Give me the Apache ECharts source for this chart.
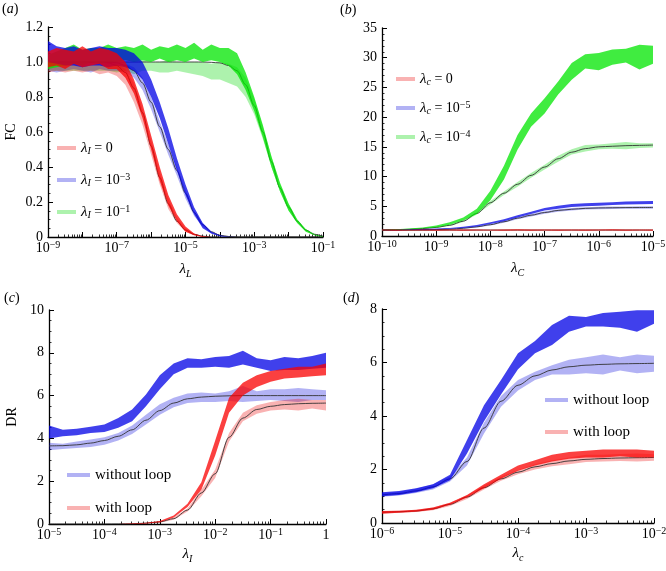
<!DOCTYPE html>
<html>
<head>
<meta charset="utf-8">
<script src="https://cdn.jsdelivr.net/npm/echarts@6.0.0/dist/echarts.min.js"></script>
<style>
    html, body { margin: 0; padding: 0; background: #fff; }
    #main { width: 666px; height: 571px; }
</style>
</head>
<body>
<div id="main"></div>
<script>
// ---- data (x stored as log10 exponents) ----

// (a) FC vs lambda_L
const lgA = [-9, -8.75, -8.5, -8.25, -8, -7.75, -7.5, -7.25, -7, -6.75, -6.5, -6.25, -6, -5.75, -5.5, -5.25, -5,
    -4.75, -4.5, -4.25, -4, -3.75, -3.5, -3.25, -3, -2.75, -2.5, -2.25, -2, -1.75, -1.5, -1.25, -1]
const aRedLo = [0.97, 0.98, 0.96, 0.99, 0.97, 0.98, 0.99, 0.96, 0.96, 0.91, 0.82, 0.68, 0.5, 0.32, 0.18, 0.09, 0.03, 0.01, 0,
    0, 0, 0, 0, 0, 0, 0, 0, 0, 0, 0, 0, 0, 0]
const aRedHi = [1.06, 1.08, 1.07, 1.06, 1.09, 1.06, 1.08, 1.07, 1.05, 1.0, 0.9, 0.76, 0.58, 0.4, 0.24, 0.13, 0.06, 0.02, 0.005,
    0, 0, 0, 0, 0, 0, 0, 0, 0, 0, 0, 0, 0, 0]
const aRedLightLo = [0.94, 0.95, 0.94, 0.95, 0.94, 0.95, 0.93, 0.94, 0.92, 0.87, 0.77, 0.64, 0.47, 0.3, 0.16, 0.08, 0.03, 0.01, 0,
    0, 0, 0, 0, 0, 0, 0, 0, 0, 0, 0, 0, 0, 0]
const aRedLightHi = [1.0, 1.0, 1.01, 1.0, 1.0, 1.01, 1.0, 1.0, 0.99, 0.96, 0.88, 0.73, 0.55, 0.37, 0.22, 0.11, 0.05, 0.02, 0.005,
    0, 0, 0, 0, 0, 0, 0, 0, 0, 0, 0, 0, 0, 0]
const aRedFit = [1, 1, 1, 1, 1, 1, 1, 0.995, 0.98, 0.94, 0.85, 0.71, 0.52, 0.34, 0.19, 0.09, 0.04, 0.015, 0.005,
    0, 0, 0, 0, 0, 0, 0, 0, 0, 0, 0, 0, 0, 0]
const aBlueLo = [1.0, 0.99, 0.98, 0.98, 0.97, 0.98, 0.98, 0.97, 0.98, 0.97, 0.95, 0.9, 0.8, 0.68, 0.53, 0.38, 0.24, 0.13, 0.05,
    0.02, 0.005, 0, 0, 0, 0, 0, 0, 0, 0, 0, 0, 0, 0]
const aBlueHi = [1.12, 1.09, 1.08, 1.09, 1.07, 1.08, 1.09, 1.08, 1.08, 1.07, 1.05, 1.0, 0.9, 0.77, 0.62, 0.45, 0.3, 0.17, 0.08,
    0.03, 0.01, 0.002, 0, 0, 0, 0, 0, 0, 0, 0, 0, 0, 0]
const aBlueLightLo = [0.95, 0.94, 0.95, 0.96, 0.95, 0.94, 0.96, 0.95, 0.95, 0.94, 0.91, 0.84, 0.73, 0.6, 0.47, 0.35, 0.22, 0.12, 0.06,
    0.02, 0.005, 0, 0, 0, 0, 0, 0, 0, 0, 0, 0, 0, 0]
const aBlueLightHi = [1.0, 1.01, 1.0, 1.0, 1.01, 1.0, 1.0, 1.01, 1.0, 0.99, 0.97, 0.91, 0.8, 0.66, 0.53, 0.4, 0.27, 0.15, 0.08,
    0.035, 0.012, 0.004, 0, 0, 0, 0, 0, 0, 0, 0, 0, 0, 0]
const aBlueFit = [1, 1, 1, 1, 1, 1, 1, 1, 0.995, 0.98, 0.95, 0.88, 0.77, 0.63, 0.5, 0.38, 0.25, 0.14, 0.07,
    0.03, 0.01, 0.003, 0, 0, 0, 0, 0, 0, 0, 0, 0, 0, 0]
const aGreenLo = [0.96, 0.97, 0.98, 0.99, 0.98, 1.0, 0.99, 1.0, 1.0, 1.01, 1.0, 1.01, 1.0, 1.02, 1.0, 1.01, 1.0, 1.02, 1.0,
    1.01, 1.0, 0.98, 0.93, 0.84, 0.72, 0.57, 0.4, 0.26, 0.15, 0.08, 0.03, 0.01, 0]
const aGreenHi = [1.04, 1.06, 1.08, 1.1, 1.07, 1.08, 1.08, 1.1, 1.08, 1.09, 1.08, 1.1, 1.07, 1.09, 1.08, 1.1, 1.08, 1.11, 1.07,
    1.1, 1.08, 1.08, 1.05, 0.94, 0.8, 0.64, 0.46, 0.31, 0.19, 0.1, 0.045, 0.015, 0.003]
const aGreenLightLo = [0.95, 0.95, 0.95, 0.95, 0.95, 0.95, 0.95, 0.95, 0.94, 0.95, 0.93, 0.95, 0.95, 0.94, 0.94, 0.95, 0.94, 0.93, 0.92,
    0.9, 0.9, 0.88, 0.86, 0.8, 0.7, 0.56, 0.4, 0.26, 0.15, 0.08, 0.035, 0.01, 0]
const aGreenLightHi = [1.0, 1.0, 1.0, 1.01, 1.0, 1.0, 1.0, 1.01, 1.0, 1.0, 1.0, 1.01, 1.0, 1.0, 1.01, 1.0, 1.0, 1.0, 1.0,
    0.99, 1.0, 0.99, 0.97, 0.91, 0.79, 0.63, 0.46, 0.3, 0.19, 0.1, 0.045, 0.02, 0.006]
const aGreenFit = [1, 1, 1, 1, 1, 1, 1, 1, 1, 1, 1, 1, 1, 1, 1, 1, 1, 1, 1,
    0.998, 0.995, 0.98, 0.95, 0.87, 0.75, 0.6, 0.43, 0.28, 0.17, 0.09, 0.04, 0.015, 0.005]

// (b) FC vs lambda_C
const lgB = [-10, -9.75, -9.5, -9.25, -9, -8.75, -8.5, -8.25, -8, -7.75, -7.5, -7.25, -7, -6.75, -6.5, -6.25, -6,
    -5.75, -5.5, -5.25, -5]
const bRedLo = [0.92, 0.9, 0.93, 0.91, 0.9, 0.92, 0.9, 0.91, 0.93, 0.9, 0.92, 0.9, 0.91, 0.9, 0.92, 0.9, 0.91, 0.93, 0.9, 0.92, 0.9]
const bRedHi = [1.08, 1.1, 1.07, 1.1, 1.09, 1.08, 1.1, 1.09, 1.07, 1.1, 1.12, 1.08, 1.1, 1.09, 1.11, 1.08, 1.1, 1.12, 1.09, 1.1, 1.11]
const bRedLightLo = [0.96, 0.95, 0.96, 0.96, 0.95, 0.96, 0.96, 0.95, 0.96, 0.96, 0.95, 0.96, 0.96, 0.95, 0.96, 0.96, 0.95, 0.96, 0.96, 0.95, 0.96]
const bRedLightHi = [1.04, 1.05, 1.04, 1.04, 1.05, 1.04, 1.04, 1.05, 1.04, 1.04, 1.05, 1.04, 1.04, 1.05, 1.04, 1.04, 1.05, 1.04, 1.04, 1.05, 1.04]
const bRedFit = [1, 1, 1, 1, 1, 1, 1, 1, 1, 1, 1, 1, 1, 1, 1, 1, 1, 1, 1, 1, 1]
const bBlueLo = [0.95, 0.97, 1.0, 1.05, 1.1, 1.2, 1.35, 1.6, 2.0, 2.5, 3.1, 3.7, 4.3, 4.6, 4.9, 5.0, 5.1, 5.2, 5.3, 5.35, 5.4]
const bBlueHi = [1.05, 1.07, 1.1, 1.17, 1.25, 1.35, 1.55, 1.85, 2.3, 2.8, 3.5, 4.1, 4.7, 5.1, 5.4, 5.5, 5.6, 5.7, 5.8, 5.85, 5.9]
const bBlueLightLo = [0.93, 0.94, 0.96, 0.98, 1.0, 1.06, 1.2, 1.44, 1.78, 2.25, 2.82, 3.3, 3.75, 4.1, 4.3, 4.45, 4.52, 4.55, 4.58, 4.6, 4.6]
const bBlueLightHi = [1.07, 1.08, 1.1, 1.12, 1.16, 1.24, 1.4, 1.66, 2.02, 2.55, 3.18, 3.7, 4.15, 4.5, 4.7, 4.85, 4.92, 4.95, 4.98, 5.0, 5.0]
const bBlueFit = [1.0, 1.01, 1.03, 1.05, 1.08, 1.15, 1.3, 1.55, 1.9, 2.4, 3.0, 3.5, 3.95, 4.3, 4.5, 4.65, 4.72, 4.75, 4.78, 4.79, 4.8]
const bGreenLo = [0.95, 1.0, 1.1, 1.25, 1.45, 1.9, 2.6, 3.7, 6.0, 9.5, 14.5, 18.4, 20.6, 23.8, 26.3, 28.2, 27.9, 28.8, 29.2, 28.0, 29.0]
const bGreenHi = [1.05, 1.12, 1.25, 1.45, 1.75, 2.3, 3.1, 4.6, 7.6, 11.8, 17.0, 20.6, 23.2, 26.0, 29.1, 30.6, 30.8, 31.4, 31.5, 32.2, 32.0]
const bGreenLightLo = [0.95, 1.0, 1.07, 1.18, 1.37, 1.7, 2.35, 3.6, 5.3, 6.9, 8.3, 9.8, 11.2, 12.5, 13.7, 14.2, 14.6, 14.7, 14.6, 14.8, 14.9]
const bGreenLightHi = [1.05, 1.1, 1.17, 1.32, 1.55, 1.92, 2.65, 4.0, 5.9, 7.5, 9.1, 10.6, 12.0, 13.5, 14.6, 15.3, 15.4, 15.6, 15.8, 15.6, 15.6]
const bGreenFit = [1.0, 1.05, 1.12, 1.25, 1.45, 1.8, 2.5, 3.8, 5.6, 7.2, 8.7, 10.2, 11.6, 13.0, 14.1, 14.7, 15.0, 15.1, 15.2, 15.25, 15.3]

// (c) DR vs lambda_I
const lgC = [-5, -4.75, -4.5, -4.25, -4, -3.75, -3.5, -3.25, -3, -2.75, -2.5, -2.25, -2, -1.75, -1.5, -1.25, -1,
    -0.75, -0.5, -0.25, 0]
const cBlueLo = [4.0, 4.1, 4.15, 4.25, 4.3, 4.5, 4.8, 5.5, 6.3, 7.0, 7.3, 7.3, 7.35, 7.3, 7.45, 7.3, 7.15, 7.2, 7.2, 7.25, 7.3]
const cBlueHi = [4.6, 4.4, 4.45, 4.55, 4.65, 4.95, 5.35, 6.05, 6.95, 7.5, 7.75, 7.7, 7.8, 7.85, 8.1, 7.75, 7.65, 7.8, 7.75, 7.85, 8.0]
const cBlueLightLo = [3.45, 3.5, 3.55, 3.6, 3.7, 3.9, 4.2, 4.65, 5.1, 5.45, 5.65, 5.7, 5.7, 5.75, 5.7, 5.75, 5.8, 5.75, 5.7, 5.8, 5.8]
const cBlueLightHi = [3.8, 3.75, 3.85, 3.95, 4.05, 4.25, 4.6, 5.1, 5.6, 5.9, 6.1, 6.15, 6.1, 6.2, 6.45, 6.2, 6.3, 6.3, 6.35, 6.3, 6.25]
const cBlueFit = [3.65, 3.66, 3.7, 3.78, 3.9, 4.1, 4.4, 4.85, 5.3, 5.65, 5.85, 5.93, 5.97, 5.99, 6.0, 6.0, 6.0, 6.0, 6.0, 6.0, 6.0]
const cRedLo = [0, 0, 0, 0, 0, 0, 0, 0.02, 0.08, 0.3, 0.8, 1.6, 3.2, 5.2, 6.0, 6.4, 6.65, 6.8, 6.85, 6.9, 6.95]
const cRedHi = [0, 0, 0, 0, 0, 0, 0.02, 0.06, 0.14, 0.4, 0.95, 1.95, 3.9, 5.9, 6.6, 6.95, 7.15, 7.25, 7.35, 7.35, 7.5]
const cRedLightLo = [0, 0, 0, 0, 0, 0, 0, 0.02, 0.06, 0.2, 0.58, 1.3, 2.15, 3.85, 4.8, 5.15, 5.3, 5.35, 5.3, 5.4, 5.3]
const cRedLightHi = [0, 0, 0, 0, 0, 0, 0.01, 0.05, 0.12, 0.3, 0.72, 1.6, 2.55, 4.25, 5.2, 5.55, 5.7, 5.8, 5.85, 5.8, 5.8]
const cRedFit = [0, 0, 0, 0, 0, 0.005, 0.01, 0.04, 0.1, 0.25, 0.65, 1.45, 2.35, 4.05, 4.95, 5.35, 5.5, 5.58, 5.62, 5.64, 5.65]

// (d) DR vs lambda_c
const lgD = [-6, -5.75, -5.5, -5.25, -5, -4.75, -4.5, -4.25, -4, -3.75, -3.5, -3.25, -3, -2.75, -2.5, -2.25, -2]
const dBlueLo = [1.0, 1.05, 1.15, 1.3, 1.6, 2.6, 3.8, 4.8, 5.75, 6.35, 6.65, 7.15, 7.35, 7.35, 7.3, 7.15, 7.45]
const dBlueHi = [1.15, 1.2, 1.3, 1.45, 1.8, 3.1, 4.4, 5.35, 6.35, 6.8, 7.4, 7.75, 7.7, 7.85, 7.9, 7.95, 7.95]
const dBlueLightLo = [0.98, 1.03, 1.12, 1.25, 1.55, 2.15, 3.35, 4.35, 4.95, 5.35, 5.55, 5.55, 5.6, 5.55, 5.7, 5.6, 5.65]
const dBlueLightHi = [1.12, 1.17, 1.28, 1.45, 1.75, 2.45, 3.75, 4.75, 5.35, 5.65, 5.9, 6.1, 6.2, 6.3, 6.2, 6.3, 6.25]
const dBlueFit = [1.05, 1.1, 1.2, 1.35, 1.65, 2.3, 3.55, 4.55, 5.15, 5.5, 5.72, 5.84, 5.9, 5.93, 5.95, 5.96, 5.97]
const dRedLo = [0.35, 0.38, 0.42, 0.5, 0.68, 0.95, 1.3, 1.65, 1.95, 2.15, 2.3, 2.4, 2.45, 2.45, 2.5, 2.45, 2.45]
const dRedHi = [0.45, 0.46, 0.5, 0.58, 0.76, 1.05, 1.45, 1.8, 2.15, 2.35, 2.55, 2.65, 2.7, 2.75, 2.75, 2.75, 2.7]
const dRedLightLo = [0.36, 0.38, 0.41, 0.48, 0.64, 0.9, 1.25, 1.58, 1.82, 2.0, 2.12, 2.2, 2.28, 2.3, 2.32, 2.3, 2.33]
const dRedLightHi = [0.44, 0.46, 0.49, 0.58, 0.76, 1.04, 1.4, 1.73, 1.98, 2.2, 2.35, 2.45, 2.55, 2.55, 2.58, 2.6, 2.57]
const dRedFit = [0.4, 0.42, 0.45, 0.53, 0.7, 0.97, 1.32, 1.65, 1.9, 2.1, 2.22, 2.32, 2.38, 2.41, 2.43, 2.44, 2.45]

// legend texts (rich markup: n = plain, i = italic, s = subscript, u = superscript)
const legA = ['{i|λ}{s|I}{n| = 0}', '{i|λ}{s|I}{n| = 10}{u|−3}', '{i|λ}{s|I}{n| = 10}{u|−1}']
const legB = ['{i|λ}{s|c}{n| = 0}', '{i|λ}{s|c}{n| = 10}{u|−5}', '{i|λ}{s|c}{n| = 10}{u|−4}']
const legLoop = ['{m|without loop}', '{m|with loop}']

// ---- styling ----
const SERIF = 'Liberation Serif'
const RED = 'rgba(250,0,0,0.75)', RED_L = 'rgba(235,0,0,0.3)'
const BLUE = 'rgba(0,0,230,0.75)', BLUE_L = 'rgba(0,0,220,0.3)'
const GREEN = 'rgba(0,230,0,0.75)', GREEN_L = 'rgba(0,215,0,0.32)'

// every piece of text goes through a token so the serif face is always applied
const rich = {
    n: { fontFamily: SERIF, fontSize: 14, color: '#000' },
    m: { fontFamily: SERIF, fontSize: 15, color: '#000' },
    i: { fontFamily: SERIF, fontStyle: 'italic', fontSize: 15, color: '#000' },
    s: { fontFamily: SERIF, fontStyle: 'italic', fontSize: 10, lineHeight: 10, verticalAlign: 'bottom', color: '#000' },
    u: { fontFamily: SERIF, fontSize: 10, lineHeight: 10, verticalAlign: 'top', color: '#000' },
}

const toX = (lg) => lg.map(e => Math.pow(10, e))
const xA = toX(lgA), xB = toX(lgB), xC = toX(lgC), xD = toX(lgD)

function band(name, gi, xs, lo, hi, color, z) {
    return {
        type: 'custom', name: name, xAxisIndex: gi, yAxisIndex: gi, z: z, clip: true, silent: true,
        itemStyle: { color: color },
        data: [[xs[0], hi[0]]],
        renderItem: function (params, api) {
            let top = xs.map((x, i) => api.coord([x, hi[i]]))
            let bot = xs.map((x, i) => api.coord([x, lo[i]])).reverse()
            return { type: 'polygon', shape: { points: top.concat(bot) }, style: { fill: color } }
        },
    }
}

// thin black fits sit between the light and the dark bands
function fitLine(gi, xs, ys) {
    return {
        type: 'line', xAxisIndex: gi, yAxisIndex: gi, z: 3, silent: true,
        data: xs.map((x, i) => [x, ys[i]]),
        smooth: 0.3, smoothMonotone: 'x', symbol: 'none',
        lineStyle: { color: '#333', width: 0.9 },
    }
}

const powLabel = (skipEven) => (v) => {
    let n = Math.round(Math.log10(v))
    if (skipEven && n % 2 === 0) return ''
    return n === 0 ? '{n|1}' : '{n|10}{u|−' + (-n) + '}'
}

function xLog(gi, min, max, name, nameGap, skipEven) {
    return {
        type: 'log', logBase: 10, gridIndex: gi, min: min, max: max, interval: 1,
        name: name, nameLocation: 'middle', nameGap: nameGap,
        nameTextStyle: { fontFamily: SERIF, fontSize: 14, lineHeight: 20, color: '#000', rich: rich },
        axisLine: { lineStyle: { color: '#000', width: 1.3 } },
        axisTick: { inside: true, length: 5, lineStyle: { color: '#000', width: 1 } },
        minorTick: { show: true, splitNumber: 9, length: 2.5, lineStyle: { color: '#000', width: 0.8 } },
        splitLine: { show: false },
        axisLabel: {
            fontFamily: SERIF, fontSize: 14, lineHeight: 16, color: '#000', margin: 3,
            formatter: powLabel(skipEven), rich: rich,
        },
    }
}

function yLin(gi, max, interval, minorSplit, name, digits) {
    return {
        type: 'value', gridIndex: gi, min: 0, max: max, interval: interval,
        name: name, nameLocation: 'middle', nameGap: 30, nameRotate: 90,
        nameTextStyle: { fontFamily: SERIF, fontSize: 14, color: '#000', rich: rich },
        axisLine: { show: true, lineStyle: { color: '#000', width: 1.3 } },
        axisTick: { show: true, inside: true, length: 5, lineStyle: { color: '#000', width: 1 } },
        minorTick: { show: true, splitNumber: minorSplit, length: 2.5, lineStyle: { color: '#000', width: 0.8 } },
        splitLine: { show: false },
        axisLabel: {
            fontFamily: SERIF, fontSize: 14, color: '#000', margin: 5, rich: rich,
            formatter: (v) => '{n|' + (v === 0 ? '0' : v.toFixed(digits)) + '}',
        },
    }
}

function legend(names, left, top, gap, w) {
    return {
        data: names, left: left, top: top, orient: 'vertical', icon: 'rect',
        itemWidth: w, itemHeight: 4, itemGap: gap, selectedMode: false,
        textStyle: { fontFamily: SERIF, fontSize: 15, lineHeight: 16, color: '#000', rich: rich },
    }
}

const series = [
    // (a)
    band(legA[2], 0, xA, aGreenLightLo, aGreenLightHi, GREEN_L, 2),
    band(legA[1], 0, xA, aBlueLightLo, aBlueLightHi, BLUE_L, 2),
    band(legA[0], 0, xA, aRedLightLo, aRedLightHi, RED_L, 2),
    fitLine(0, xA, aGreenFit), fitLine(0, xA, aBlueFit), fitLine(0, xA, aRedFit),
    band('a-green', 0, xA, aGreenLo, aGreenHi, GREEN, 4),
    band('a-blue', 0, xA, aBlueLo, aBlueHi, BLUE, 4),
    band('a-red', 0, xA, aRedLo, aRedHi, RED, 4),
    // (b)
    band(legB[2], 1, xB, bGreenLightLo, bGreenLightHi, GREEN_L, 2),
    band(legB[1], 1, xB, bBlueLightLo, bBlueLightHi, BLUE_L, 2),
    band(legB[0], 1, xB, bRedLightLo, bRedLightHi, RED_L, 2),
    fitLine(1, xB, bGreenFit), fitLine(1, xB, bBlueFit), fitLine(1, xB, bRedFit),
    band('b-green', 1, xB, bGreenLo, bGreenHi, GREEN, 4),
    band('b-blue', 1, xB, bBlueLo, bBlueHi, BLUE, 4),
    band('b-red', 1, xB, bRedLo, bRedHi, RED, 4),
    // (c)
    band(legLoop[0], 2, xC, cBlueLightLo, cBlueLightHi, BLUE_L, 2),
    band(legLoop[1], 2, xC, cRedLightLo, cRedLightHi, RED_L, 2),
    fitLine(2, xC, cBlueFit), fitLine(2, xC, cRedFit),
    band('c-blue', 2, xC, cBlueLo, cBlueHi, BLUE, 4),
    band('c-red', 2, xC, cRedLo, cRedHi, RED, 4),
    // (d)
    band(legLoop[0], 3, xD, dBlueLightLo, dBlueLightHi, BLUE_L, 2),
    band(legLoop[1], 3, xD, dRedLightLo, dRedLightHi, RED_L, 2),
    fitLine(3, xD, dBlueFit), fitLine(3, xD, dRedFit),
    band('d-blue', 3, xD, dBlueLo, dBlueHi, BLUE, 4),
    band('d-red', 3, xD, dRedLo, dRedHi, RED, 4),
]

function panelLabel(letter, left, top) {
    return {
        type: 'text', left: left, top: top,
        style: {
            text: '({i|' + letter + '})', fontFamily: SERIF, fontSize: 14, fill: '#000',
            rich: { i: { fontFamily: SERIF, fontStyle: 'italic', fontSize: 14 } },
        },
    }
}

const chart = echarts.init(document.getElementById('main'))
chart.setOption({
    animation: false,
    backgroundColor: '#fff',
    textStyle: { fontFamily: SERIF },
    grid: [
        { left: 48, top: 27, width: 275, height: 210, outerBoundsMode: 'none' },
        { left: 382, top: 28, width: 271, height: 208, outerBoundsMode: 'none' },
        { left: 49, top: 310, width: 277, height: 214, outerBoundsMode: 'none' },
        { left: 382, top: 309, width: 272, height: 214, outerBoundsMode: 'none' },
    ],
    xAxis: [
        xLog(0, 1e-9, 1e-1, '{i|λ}{s|L}', 22, true),
        xLog(1, 1e-10, 1e-5, '{i|λ}{s|C}', 22, false),
        xLog(2, 1e-5, 1, '{i|λ}{s|I}', 18, false),
        xLog(3, 1e-6, 1e-2, '{i|λ}{s|c}', 17, false),
    ],
    yAxis: [
        yLin(0, 1.2, 0.2, 4, '{n|FC}', 1),
        yLin(1, 35, 5, 5, '', 0),
        yLin(2, 10, 2, 4, '{n|DR}', 0),
        yLin(3, 8, 2, 4, '', 0),
    ],
    legend: [
        legend(legA, 52, 135, 16, 19),
        legend(legB, 391, 66, 13, 19),
        legend(legLoop, 62, 462, 17, 23),
        legend(legLoop, 540, 387, 16, 23),
    ],
    graphic: [
        panelLabel('a', 2, 2),
        panelLabel('b', 340, 3),
        panelLabel('c', 4, 291),
        panelLabel('d', 343, 291),
    ],
    series: series,
})
</script>
</body>
</html>
